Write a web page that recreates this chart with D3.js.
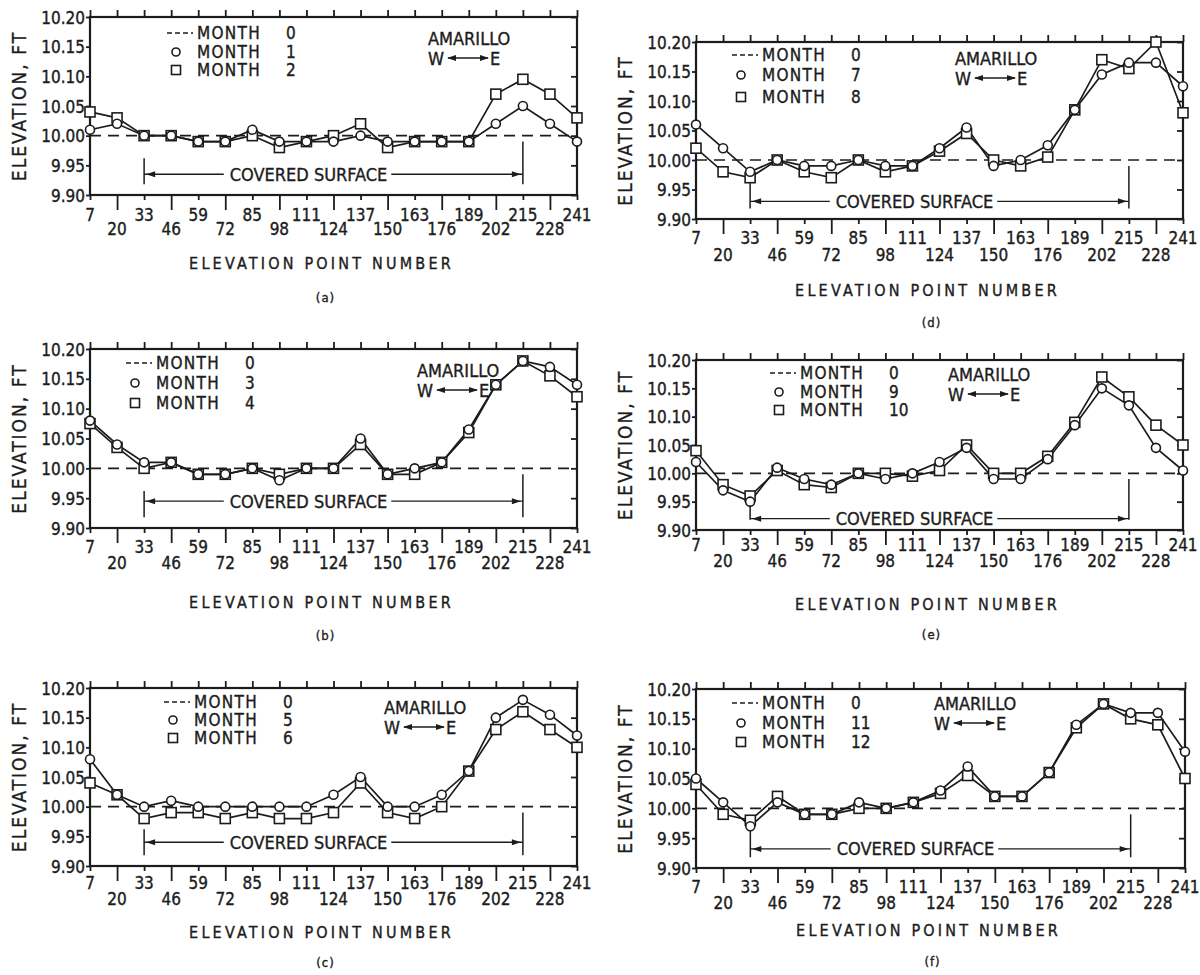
<!DOCTYPE html>
<html>
<head>
<meta charset="utf-8">
<script src="https://cdn.jsdelivr.net/npm/d3@7"></script>
<style>
  body { margin: 0; background: #fff; }
  svg text { font-family: "DejaVu Sans Condensed", "DejaVu Sans", sans-serif; fill: #1c1c1c; stroke: #1c1c1c; stroke-width: 0.35px; }
</style>
</head>
<body>
<svg id="chart" width="1200" height="975"></svg>
<script>
// elevation point numbers (x axis)
var points = [7, 20, 33, 46, 59, 72, 85, 98, 111, 124, 137, 150, 163, 176, 189, 202, 215, 228, 241];
var yTicks = [9.90, 9.95, 10.00, 10.05, 10.10, 10.15, 10.20];
var month0 = 10.00; // reference survey, dashed line

var month1  = [10.01, 10.02, 10.00, 10.00, 9.99, 9.99, 10.01, 9.99, 9.99, 9.99, 10.00, 9.99, 9.99, 9.99, 9.99, 10.02, 10.05, 10.02, 9.99];
var month2  = [10.04, 10.03, 10.00, 10.00, 9.99, 9.99, 10.00, 9.98, 9.99, 10.00, 10.02, 9.98, 9.99, 9.99, 9.99, 10.07, 10.095, 10.07, 10.03];
var month3  = [10.08, 10.04, 10.01, 10.01, 9.99, 9.99, 10.00, 9.98, 10.00, 10.00, 10.05, 9.99, 10.00, 10.01, 10.065, 10.14, 10.18, 10.17, 10.14];
var month4  = [10.075, 10.035, 10.00, 10.01, 9.99, 9.99, 10.00, 9.99, 10.00, 10.00, 10.04, 9.99, 9.99, 10.01, 10.06, 10.14, 10.18, 10.155, 10.12];
var month5  = [10.08, 10.02, 10.00, 10.01, 10.00, 10.00, 10.00, 10.00, 10.00, 10.02, 10.05, 10.00, 10.00, 10.02, 10.06, 10.15, 10.18, 10.155, 10.12];
var month6  = [10.04, 10.02, 9.98, 9.99, 9.99, 9.98, 9.99, 9.98, 9.98, 9.99, 10.04, 9.99, 9.98, 10.00, 10.06, 10.13, 10.16, 10.13, 10.10];
var month7  = [10.06, 10.02, 9.98, 10.00, 9.99, 9.99, 10.00, 9.99, 9.99, 10.02, 10.055, 9.99, 10.00, 10.025, 10.085, 10.145, 10.165, 10.165, 10.125];
var month8  = [10.02, 9.98, 9.97, 10.00, 9.98, 9.97, 10.00, 9.98, 9.99, 10.015, 10.045, 10.00, 9.99, 10.005, 10.085, 10.17, 10.155, 10.20, 10.08];
var month9  = [10.02, 9.97, 9.95, 10.01, 9.99, 9.98, 10.00, 9.99, 10.00, 10.02, 10.045, 9.99, 9.99, 10.025, 10.085, 10.15, 10.12, 10.045, 10.005];
var month10 = [10.04, 9.98, 9.96, 10.005, 9.98, 9.975, 10.00, 10.00, 9.995, 10.005, 10.05, 10.00, 10.00, 10.03, 10.09, 10.17, 10.135, 10.085, 10.05];
var month11 = [10.05, 10.01, 9.97, 10.01, 9.99, 9.99, 10.01, 10.00, 10.01, 10.03, 10.07, 10.02, 10.02, 10.06, 10.14, 10.175, 10.16, 10.16, 10.095];
var month12 = [10.04, 9.99, 9.98, 10.02, 9.99, 9.99, 10.00, 10.00, 10.01, 10.025, 10.055, 10.02, 10.02, 10.06, 10.135, 10.175, 10.15, 10.14, 10.05];

var svg = d3.select('#chart');
var ink = '#1c1c1c';

// one entry per sub-figure: which months, where the frame sits, where the legend sits
var panels = [
  {tag: '(a)', m: [1, 2],   c: month1,  s: month2,  box: [90, 17, 577, 195],    lx: 171, rows: [33, 52, 70],    ama: [428, 38],  rowsY: [215, 229], epn: 263, tagY: 297, cover: 9.935},
  {tag: '(b)', m: [3, 4],   c: month3,  s: month4,  box: [90, 349, 577, 528],   lx: 130, rows: [363, 383, 403], ama: [417, 370], rowsY: [547, 563], epn: 602, tagY: 635, cover: 9.945},
  {tag: '(c)', m: [5, 6],   c: month5,  s: month6,  box: [90, 688, 577, 866],   lx: 168, rows: [702, 720, 738], ama: [384, 707], rowsY: [883, 899], epn: 932, tagY: 962, cover: 9.94},
  {tag: '(d)', m: [7, 8],   c: month7,  s: month8,  box: [696, 42, 1183, 219],  lx: 736, rows: [55, 75, 97],    ama: [955, 58],  rowsY: [238, 255], epn: 290, tagY: 322, cover: 9.93},
  {tag: '(e)', m: [9, 10],  c: month9,  s: month10, box: [696, 360, 1183, 530], lx: 774, rows: [373, 392, 410], ama: [948, 374], rowsY: [545, 561], epn: 604, tagY: 634, cover: 9.92},
  {tag: '(f)', m: [11, 12], c: month11, s: month12, box: [696, 689, 1185, 868], lx: 736, rows: [703, 723, 742], ama: [934, 703], rowsY: [887, 903], epn: 930, tagY: 961, cover: 9.932}
];

function square(g, cx, cy, size) {
  g.append('rect')
    .attr('x', cx - size / 2).attr('y', cy - size / 2)
    .attr('width', size).attr('height', size)
    .style('fill', '#fff').style('stroke', ink).style('stroke-width', 1.6);
}
function circle(g, cx, cy, r) {
  g.append('circle').attr('cx', cx).attr('cy', cy).attr('r', r)
    .style('fill', '#fff').style('stroke', ink).style('stroke-width', 1.6);
}
function arrowHead(g, x, y, dir) {
  // small filled head, dir = -1 points left, 1 points right
  g.append('path')
    .attr('d', 'M' + x + ',' + y + 'L' + (x - dir * 9) + ',' + (y - 3) + 'L' + (x - dir * 9) + ',' + (y + 3) + 'Z')
    .style('fill', ink);
}

function drawPanel(p) {
  var x0 = p.box[0], y0 = p.box[1], x1 = p.box[2], y1 = p.box[3];
  var x = d3.scaleLinear().domain([7, 241]).range([x0, x1]);
  var y = d3.scaleLinear().domain([9.90, 10.20]).range([y1, y0]);
  var g = svg.append('g');

  // top ticks, outward
  var top = g.append('g').attr('transform', 'translate(0,' + y0 + ')')
    .call(d3.axisTop(x).tickValues(points).tickSize(7).tickFormat(''));
  // bottom ticks: long under the lower label row, short under the upper one
  var botLong = g.append('g').attr('transform', 'translate(0,' + y1 + ')')
    .call(d3.axisBottom(x).tickValues(points.filter(function(d, i) { return i % 2 === 1; })).tickSize(15).tickFormat(''));
  var botShort = g.append('g').attr('transform', 'translate(0,' + y1 + ')')
    .call(d3.axisBottom(x).tickValues(points.filter(function(d, i) { return i % 2 === 0; })).tickSize(5).tickFormat(''));
  // left axis labels
  var left = g.append('g').attr('transform', 'translate(' + x0 + ',0)')
    .call(d3.axisLeft(y).tickValues(yTicks).tickSize(4).tickPadding(1).tickFormat(d3.format('.2f')));
  // right axis, short inward ticks
  var right = g.append('g').attr('transform', 'translate(' + x1 + ',0)')
    .call(d3.axisLeft(y).tickValues(yTicks).tickSize(6).tickFormat(''));
  [top, botLong, botShort, left, right].forEach(function(a) {
    a.select('.domain').remove();
    a.attr('font-family', null).attr('font-size', null);
    a.selectAll('line').style('stroke', ink).style('stroke-width', 1.8);
  });
  left.selectAll('text').style('font-size', '17px').style('fill', ink).attr('dy', '0.36em');

  // frame
  g.append('rect').attr('x', x0).attr('y', y0).attr('width', x1 - x0).attr('height', y1 - y0)
    .style('fill', 'none').style('stroke', ink).style('stroke-width', 2.2);

  // x labels on two staggered rows
  g.selectAll('.xl').data(points).enter().append('text')
    .attr('x', function(d) { return x(d); })
    .attr('y', function(d, i) { return p.rowsY[i % 2]; })
    .attr('dominant-baseline', 'central')
    .attr('text-anchor', 'middle')
    .style('font-size', '17px')
    .text(function(d) { return d; });

  // axis titles
  g.append('text')
    .attr('transform', 'translate(' + (x0 - 71) + ',' + ((y0 + y1) / 2) + ') rotate(-90)')
    .attr('text-anchor', 'middle').attr('dominant-baseline', 'central')
    .style('font-size', '19px').style('letter-spacing', '2px')
    .text('ELEVATION, FT');
  g.append('text')
    .attr('x', (x0 + x1) / 2 - 12).attr('y', p.epn)
    .attr('text-anchor', 'middle').attr('dominant-baseline', 'central')
    .style('font-size', '16px').style('letter-spacing', '3.2px')
    .text('ELEVATION  POINT  NUMBER');
  g.append('text')
    .attr('x', (x0 + x1) / 2 - 8).attr('y', p.tagY)
    .attr('text-anchor', 'middle').attr('dominant-baseline', 'central')
    .style('font-size', '13px').style('letter-spacing', '1px')
    .text(p.tag);

  // month 0 reference
  g.append('line')
    .attr('x1', x0).attr('x2', x1).attr('y1', y(month0)).attr('y2', y(month0))
    .style('stroke', ink).style('stroke-width', 1.7).style('stroke-dasharray', '11,7');

  // covered surface annotation
  var cy = y(p.cover);
  g.append('line').attr('x1', x(33)).attr('x2', x(33)).attr('y1', y(9.962)).attr('y2', y(9.918))
    .style('stroke', ink).style('stroke-width', 1.5);
  g.append('line').attr('x1', x(215)).attr('x2', x(215)).attr('y1', y(9.99)).attr('y2', y(9.918))
    .style('stroke', ink).style('stroke-width', 1.5);
  var label = g.append('text')
    .attr('x', x(112)).attr('y', cy)
    .attr('text-anchor', 'middle').attr('dominant-baseline', 'central')
    .style('font-size', '18px')
    .text('COVERED  SURFACE');
  var half = label.node().getComputedTextLength() / 2;
  g.append('line').attr('x1', x(33)).attr('x2', x(112) - half - 6).attr('y1', cy).attr('y2', cy)
    .style('stroke', ink).style('stroke-width', 1.3);
  g.append('line').attr('x1', x(112) + half + 4).attr('x2', x(215)).attr('y1', cy).attr('y2', cy)
    .style('stroke', ink).style('stroke-width', 1.3);
  arrowHead(g, x(33) + 2, cy, -1);
  arrowHead(g, x(215) - 2, cy, 1);

  // series
  var line = d3.line()
    .x(function(d, i) { return x(points[i]); })
    .y(function(d) { return y(d); });
  [p.s, p.c].forEach(function(vals) {
    g.append('path').datum(vals).attr('d', line)
      .style('fill', 'none').style('stroke', ink).style('stroke-width', 1.7);
  });
  p.s.forEach(function(v, i) { square(g, x(points[i]), y(v), 10); });
  p.c.forEach(function(v, i) { circle(g, x(points[i]), y(v), 4.5); });

  // legend
  g.append('line').attr('x1', p.lx - 4).attr('x2', p.lx + 22).attr('y1', p.rows[0]).attr('y2', p.rows[0])
    .style('stroke', ink).style('stroke-width', 1.4).style('stroke-dasharray', '5,3');
  circle(g, p.lx + 5, p.rows[1], 4);
  square(g, p.lx + 5, p.rows[2], 9);
  var names = [0, p.m[0], p.m[1]];
  names.forEach(function(m, i) {
    g.append('text').attr('x', p.lx + 26).attr('y', p.rows[i]).attr('dominant-baseline', 'central')
      .style('font-size', '17px').style('letter-spacing', '1.3px').text('MONTH');
    g.append('text').attr('x', p.lx + 115).attr('y', p.rows[i]).attr('dominant-baseline', 'central')
      .style('font-size', '17px').text(m);
  });
  g.append('text').attr('x', p.ama[0]).attr('y', p.ama[1]).attr('dominant-baseline', 'central')
    .style('font-size', '18px').text('AMARILLO');
  var wy = p.ama[1] + 20;
  g.append('text').attr('x', p.ama[0]).attr('y', wy).attr('dominant-baseline', 'central')
    .style('font-size', '18px').text('W');
  g.append('line').attr('x1', p.ama[0] + 20).attr('x2', p.ama[0] + 60).attr('y1', wy).attr('y2', wy)
    .style('stroke', ink).style('stroke-width', 1.3);
  arrowHead(g, p.ama[0] + 19, wy, -1);
  arrowHead(g, p.ama[0] + 61, wy, 1);
  g.append('text').attr('x', p.ama[0] + 62).attr('y', wy).attr('dominant-baseline', 'central')
    .style('font-size', '18px').text('E');
}

panels.forEach(drawPanel);
</script>
</body>
</html>
